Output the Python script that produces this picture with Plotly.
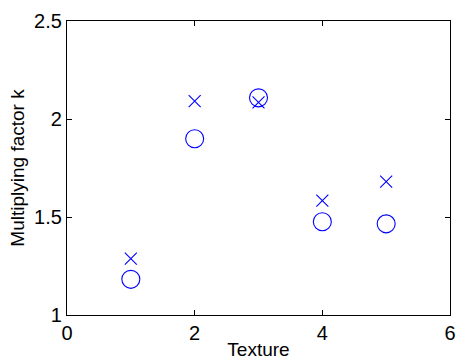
import plotly.graph_objects as go

textures = [1, 2, 3, 4, 5]
k_circle = [1.182, 1.899, 2.108, 1.476, 1.465]
k_cross = [1.288, 2.091, 2.085, 1.584, 1.680]
x_ticks = [0, 2, 4, 6]
y_ticks = [1, 1.5, 2, 2.5]
y_tick_text = ["1", "1.5", "2", "2.5"]

FONT = "Liberation Sans, Arial, sans-serif"

fig = go.Figure()
fig.add_trace(go.Scatter(
    x=textures, y=k_circle, mode="markers",
    marker=dict(symbol="circle-open", size=18, color="#0000ff", line=dict(width=1.1, color="#0000ff")),
    showlegend=False, cliponaxis=False))
fig.add_trace(go.Scatter(
    x=textures, y=k_cross, mode="markers",
    marker=dict(symbol="x-thin-open", size=12, color="#0000ff", line=dict(width=1.1, color="#0000ff")),
    showlegend=False, cliponaxis=False))

axis_common = dict(showgrid=False, zeroline=False, showline=True, linecolor="black", linewidth=1.2,
                   mirror="ticks", ticks="inside", ticklen=5, tickcolor="black", tickwidth=1,
                   automargin=False, ticklabeloverflow="allow",
                   tickfont=dict(family=FONT, size=20, color="black"))

fig.update_xaxes(range=[0, 6], tickvals=x_ticks, ticktext=[str(t) for t in x_ticks],
                 title=dict(text="Texture", font=dict(family=FONT, size=19, color="black"), standoff=0),
                 **axis_common)
fig.update_yaxes(range=[1, 2.5], tickvals=y_ticks, ticktext=y_tick_text,
                 title=dict(text="Multiplying factor k", font=dict(family=FONT, size=19, color="black"), standoff=4),
                 **axis_common)

fig.update_layout(width=457, height=360,
                  margin=dict(l=67, r=7, t=21, b=45, autoexpand=False),
                  plot_bgcolor="white", paper_bgcolor="white")
fig.write_html("out.html", config={"displayModeBar": False},
               post_script="document.body.style.margin='0';document.body.style.overflow='hidden';")
